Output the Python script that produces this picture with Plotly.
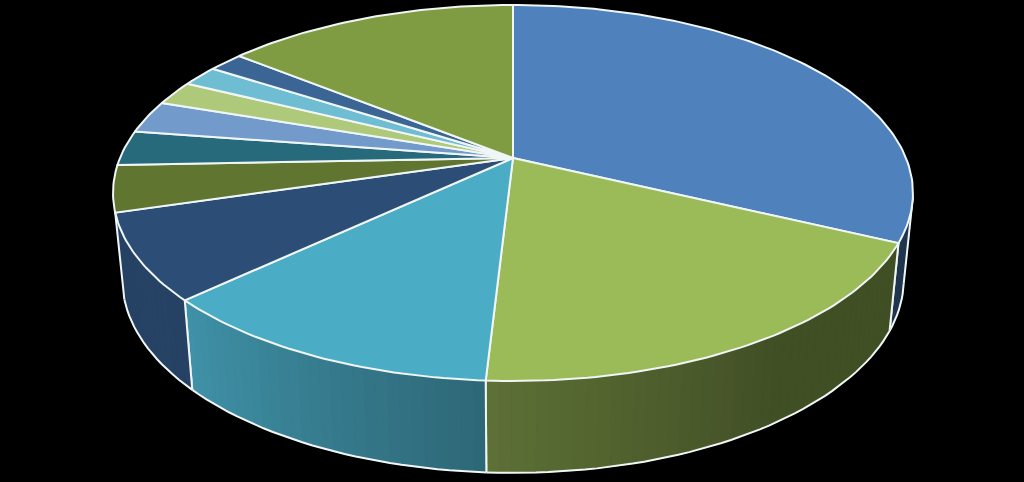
import numpy as np
import plotly.graph_objects as go

# Slice shares (percent), clockwise from 12 o'clock
values = [32.1, 18.8, 12.1, 7.4, 4.0, 3.0, 2.8, 2.1, 1.8, 1.7, 14.2]
colors = ["#4F81BD", "#9BBB59", "#4BACC6", "#2C4D75", "#5F7530", "#276A7C",
          "#729ACA", "#AFC97A", "#6FBDD3", "#3A6595", "#7F9C42"]

# Projection of the disc on the page
CX, CY, A, B, K = 513.0, 158.0, 393.0, 181.5, 0.186
BOT_SX, BOT_SY, BOT_DY = 0.977, 1.03, 80.5
RIGHT_SILHOUETTE = 102.0
LINE = "rgba(240,245,245,1)"
LINE_W = 2.0

# Wall shading as a function of angle
shade_ang = [145, 183, 227, 260]
shade_val = [0.42, 0.60, 0.85, 0.87]


def top_rim(deg):
    t = np.radians(deg)
    X, Y = np.sin(t), -np.cos(t)
    w = 1 - K * Y
    return CX + A * X / w, CY + B * Y / w


def bottom_rim(deg):
    x, y = top_rim(deg)
    return CX + BOT_SX * (x - CX), BOT_SY * y + BOT_DY


def scaled(hex_color, f):
    r, g, b = (int(hex_color[i:i + 2], 16) for i in (1, 3, 5))
    return f"rgb({r * f:.0f},{g * f:.0f},{b * f:.0f})"


fig = go.Figure()
edges = np.concatenate([[0], np.cumsum(values)]) / sum(values) * 360
wall_end = edges[4]


def line(xs, ys):
    fig.add_trace(go.Scatter(x=xs, y=ys, mode="lines", hoverinfo="skip",
                             line=dict(color=LINE, width=LINE_W, shape="linear")))


# Side walls
for i, col in enumerate(colors):
    a0, a1 = max(edges[i], RIGHT_SILHOUETTE), min(edges[i + 1], wall_end)
    if a1 <= a0:
        continue
    n = max(2, int((a1 - a0) / 1.5))
    angs = np.linspace(a0, a1, n + 1)
    for p, q in zip(angs[:-1], angs[1:]):
        f = float(np.interp((p + q) / 2, shade_ang, shade_val))
        c = scaled(col, f)
        tx0, ty0 = top_rim(p)
        tx1, ty1 = top_rim(q)
        bx0, by0 = bottom_rim(p)
        bx1, by1 = bottom_rim(q)
        fig.add_trace(go.Scatter(x=[tx0, tx1, bx1, bx0, tx0], y=[ty0, ty1, by1, by0, ty0],
                                 mode="lines", fill="toself", fillcolor=c,
                                 line=dict(color=c, width=1), hoverinfo="skip"))
    bx, by = bottom_rim(angs)
    line(bx, by)
    for e in (a0, a1):
        tx, ty = top_rim(e)
        bx, by = bottom_rim(e)
        line([tx, bx], [ty, by])

# Top faces
for i, col in enumerate(colors):
    angs = np.linspace(edges[i], edges[i + 1], max(3, int((edges[i + 1] - edges[i]) / 1.0) + 1))
    x, y = top_rim(angs)
    fig.add_trace(go.Scatter(x=np.r_[CX, x, CX], y=np.r_[CY, y, CY], mode="lines",
                             fill="toself", fillcolor=col, hoverinfo="skip",
                             line=dict(color=LINE, width=LINE_W)))

fig.update_layout(
    width=1024, height=482, margin=dict(l=0, r=0, t=0, b=0),
    paper_bgcolor="black", plot_bgcolor="black", showlegend=False,
    xaxis=dict(range=[0, 1024], visible=False, fixedrange=True),
    yaxis=dict(range=[482, 0], visible=False, fixedrange=True),
)
fig.write_html(
    "out.html",
    config=dict(displayModeBar=False),
    post_script="document.body.style.margin='0';document.body.style.background='black';"
                "document.documentElement.style.overflow='hidden';",
)
